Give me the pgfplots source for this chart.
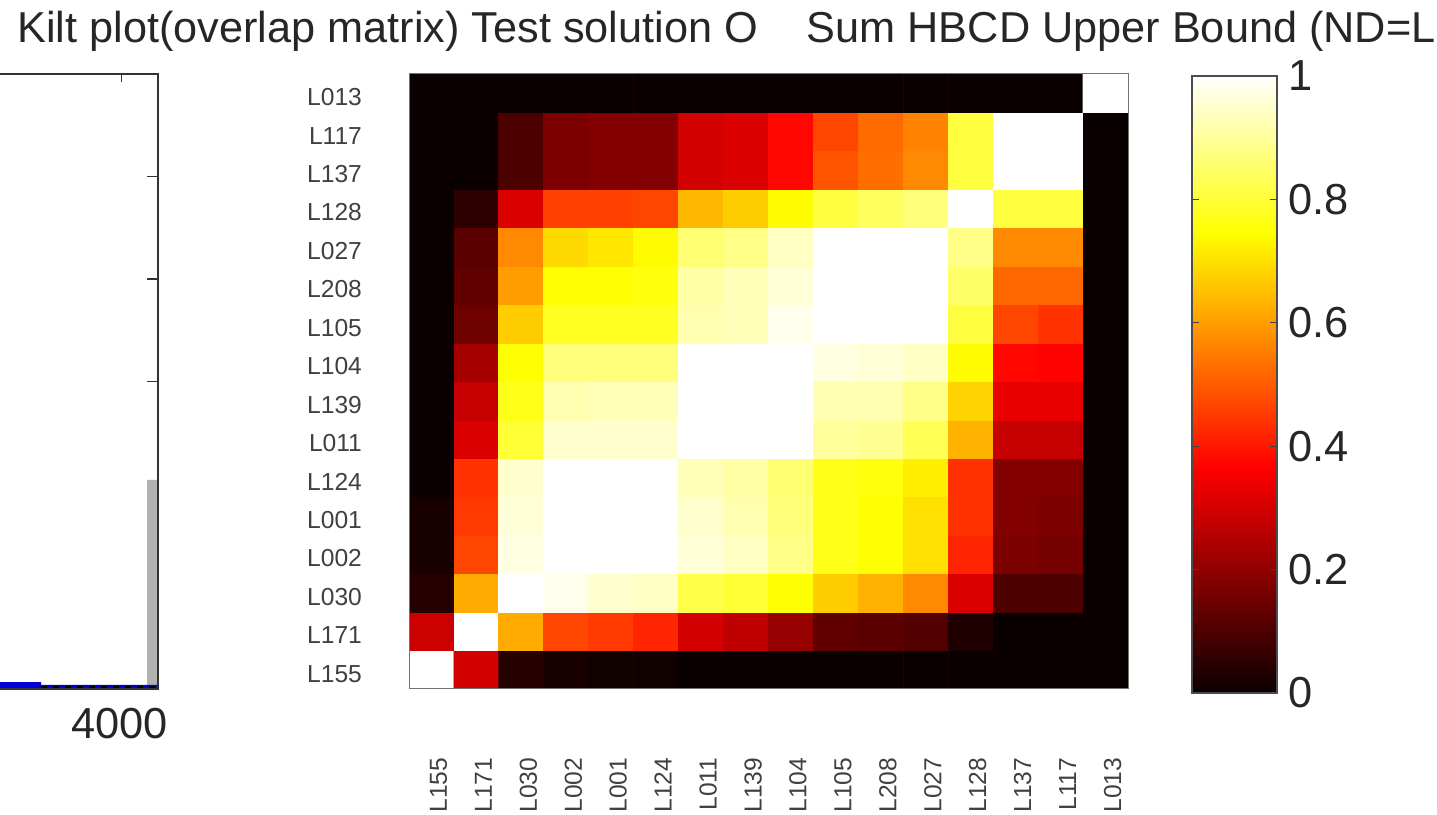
\documentclass[border=0pt]{standalone}
\usepackage{pgfplots}
\pgfplotsset{compat=1.18}
\usepackage{fontspec}
\setmainfont{Liberation Sans}
\definecolor{lab}{gray}{0.25}
\pgfplotsset{
  colormap={mlhot}{rgb(0)=(0.04,0,0); rgb(0.365)=(1,0,0); rgb(0.746)=(1,1,0); rgb(1)=(1,1,1)},
}
\begin{document}
\begin{tikzpicture}
\useasboundingbox (0pt,0pt) rectangle (718.5pt,407.5pt);
\clip (0pt,0pt) rectangle (718.5pt,407.5pt);
% left panel (cut by the page edge)
\begin{axis}[
  at={(-180pt,63pt)},anchor=south west,
  scale only axis,width=259pt,height=307.5pt,
  xmin=0,xmax=4304,ymin=0,ymax=6,
  xtick={4000},ytick={3,4,5},yticklabels={},
  ticklabel style={font=\fontsize{21.7}{21.7}\selectfont,text=black!85},
  /pgf/number format/assume math mode=true,
  /pgf/number format/1000 sep={},
  tick align=inside,
  xtick style={black!80,line width=0.6pt,/pgfplots/major tick length=4pt},
  ytick style={black!80,line width=0.6pt,/pgfplots/major tick length=5.5pt},
  tickpos=right,
  axis line style={black!80,line width=0.7pt},
  xticklabel pos=bottom,
  xticklabel style={yshift=-6pt,xshift=-1pt},
  axis on top,
]
\addplot[fill=black!30,draw=none] coordinates {(4213,0) (4213,2.04) (4304,2.04) (4304,0)} \closedcycle;
\addplot[fill=blue!85!black,draw=none] coordinates {(0,0) (0,0.068) (3332,0.068) (3332,0.04) (4304,0.04) (4304,0)} \closedcycle;
\addplot[black,dashed,line width=1pt] coordinates {(3332,0.022) (4304,0.022)};
\end{axis}
% overlap matrix
\begin{axis}[
  at={(204.5pt,63pt)},anchor=south west,name=kilt,
  scale only axis,width=359.5pt,height=307.5pt,
  xmin=-0.5,xmax=15.5,ymin=-0.5,ymax=15.5,
  xtick={0,...,15},ytick={0,...,15},
  xticklabels={L155,L171,L030,L002,L001,L124,L011,L139,L104,L105,L208,L027,L128,L137,L117,L013},
  yticklabels={L155,L171,L030,L002,L001,L124,L011,L139,L104,L105,L208,L027,L128,L137,L117,L013},
  major tick length=0pt,
  ticklabel style={font=\fontsize{12.3}{12.3}\selectfont,text=lab},
  yticklabel style={anchor=east,xshift=-20pt,yshift=-2pt},
  xticklabel style={rotate=90,anchor=east,yshift=-3.5pt,xshift=-30.8pt},
  axis line style={black!55,line width=0.5pt},
  axis on top,
  point meta min=0,point meta max=1,
  colormap name=mlhot,
  colorbar,
  colorbar/width=42.5pt,
  colorbar style={
    at={(parent axis.north east)},anchor=north west,xshift=23.5pt,yshift=-1pt,
    height=308.5pt,
    ymin=0,ymax=1,
    ytick={0,0.2,0.4,0.6,0.8,1},
    yticklabels={0,0.2,0.4,0.6,0.8,1},
    yticklabel pos=right,
    ytick pos=both,
    ytick align=inside,
    tick align=inside,major tick length=3.5pt,
    ytick style={black!75,line width=0.5pt},
    yticklabel style={font=\fontsize{21.7}{21.7}\selectfont,text=black!85,xshift=2pt},
    axis line style={black!70,line width=0.6pt},
    /pgf/number format/assume math mode=true,
  },
]
\addplot[matrix plot*,mesh/cols=16,point meta=explicit] table[row sep=\\,header=false,
  x expr={mod(\coordindex,16)},y expr={floor((\coordindex+0.5)/16)},meta index=0]{
1\\ .30\\ .04\\ .02\\ .01\\ .01\\ 0\\ 0\\ 0\\ 0\\ 0\\ 0\\ 0\\ 0\\ 0\\ 0\\
.29\\ 1\\ .62\\ .47\\ .45\\ .42\\ .30\\ .27\\ .21\\ .13\\ .12\\ .11\\ .03\\ 0\\ 0\\ 0\\
.04\\ .62\\ 1\\ .98\\ .95\\ .94\\ .82\\ .80\\ .75\\ .67\\ .63\\ .57\\ .31\\ .10\\ .10\\ 0\\
.02\\ .47\\ .97\\ 1\\ 1\\ 1\\ .96\\ .94\\ .88\\ .77\\ .75\\ .70\\ .42\\ .17\\ .16\\ 0\\
.02\\ .45\\ .96\\ 1\\ 1\\ 1\\ .95\\ .92\\ .87\\ .77\\ .75\\ .70\\ .44\\ .18\\ .17\\ 0\\
0\\ .44\\ .95\\ 1\\ 1\\ 1\\ .93\\ .91\\ .86\\ .77\\ .76\\ .72\\ .44\\ .18\\ .18\\ 0\\
0\\ .31\\ .80\\ .95\\ .95\\ .95\\ 1\\ 1\\ 1\\ .90\\ .89\\ .83\\ .63\\ .28\\ .28\\ 0\\
0\\ .28\\ .77\\ .92\\ .93\\ .93\\ 1\\ 1\\ 1\\ .92\\ .92\\ .88\\ .68\\ .33\\ .33\\ 0\\
0\\ .23\\ .75\\ .87\\ .87\\ .87\\ 1\\ 1\\ 1\\ .97\\ .96\\ .94\\ .74\\ .375\\ .37\\ 0\\
0\\ .15\\ .67\\ .78\\ .78\\ .78\\ .92\\ .93\\ .98\\ 1\\ 1\\ 1\\ .81\\ .47\\ .44\\ 0\\
0\\ .13\\ .60\\ .75\\ .75\\ .76\\ .91\\ .93\\ .96\\ 1\\ 1\\ 1\\ .85\\ .52\\ .52\\ 0\\
0\\ .12\\ .57\\ .69\\ .71\\ .74\\ .86\\ .88\\ .94\\ 1\\ 1\\ 1\\ .88\\ .57\\ .57\\ 0\\
0\\ .05\\ .31\\ .46\\ .46\\ .47\\ .64\\ .67\\ .74\\ .81\\ .84\\ .87\\ 1\\ .81\\ .81\\ 0\\
0\\ 0\\ .10\\ .17\\ .18\\ .18\\ .30\\ .31\\ .375\\ .49\\ .53\\ .57\\ .81\\ 1\\ 1\\ 0\\
0\\ 0\\ .10\\ .17\\ .18\\ .18\\ .30\\ .31\\ .375\\ .47\\ .525\\ .56\\ .81\\ 1\\ 1\\ 0\\
0\\ 0\\ 0\\ 0\\ 0\\ 0\\ 0\\ 0\\ 0\\ 0\\ 0\\ 0\\ 0\\ 0\\ 0\\ 1\\
};
\end{axis}
\node[anchor=base west,inner sep=0pt,font=\fontsize{21.63}{21.63}\selectfont,text=black!85] at (8.5pt,386pt) {Kilt plot(overlap matrix) Test solution O\hspace{24.5pt}Sum HBCD Upper Bound (ND=L};
\end{tikzpicture}
\end{document}
